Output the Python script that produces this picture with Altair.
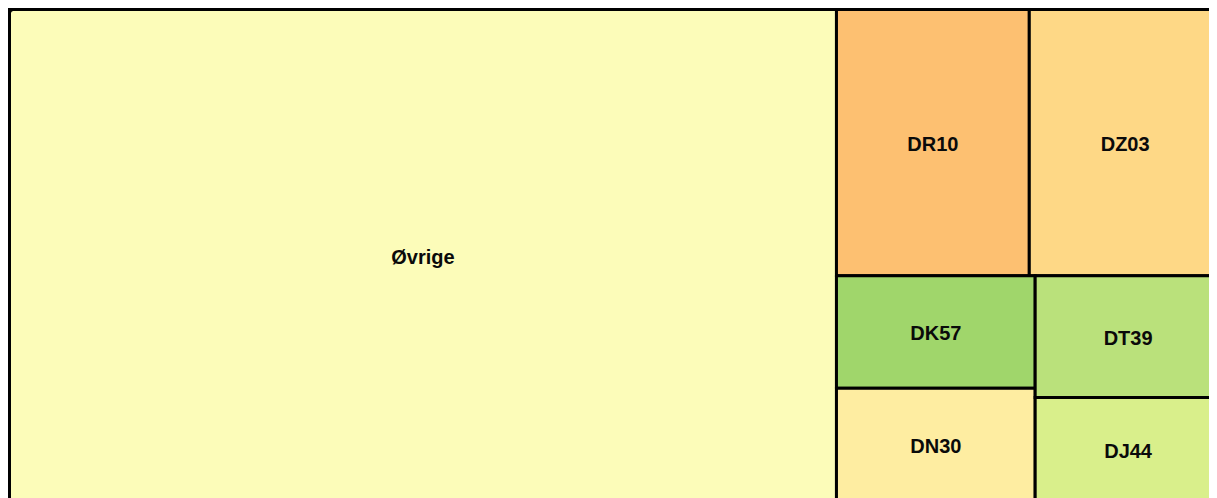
import altair as alt
import pandas as pd

# ---- data ----
names = ["Øvrige", "DR10", "DZ03", "DK57", "DN30", "DT39", "DJ44"]
values = [68.3, 8.6, 8.55, 3.75, 3.8, 3.79, 3.27]

# ---- styles ----
palette = ["#fcfcb9", "#fdc071", "#fed886", "#a0d66b", "#feeda1", "#bae17b", "#d9ef8b"]
LW, LH = 1211.5, 493.0      # full treemap extent (larger than the visible window)
PW, PH = 1201, 490          # visible plot area


def squarify(vals, x0, y0, x1, y1):
    """Squarified treemap layout (d3 algorithm, ratio 1), keeps input order."""
    n = len(vals)
    rects = [None] * n
    value = float(sum(vals))
    i0 = i1 = 0
    while i0 < n:
        dx, dy = x1 - x0, y1 - y0
        sumv = vals[i1]
        i1 += 1
        minv = maxv = sumv
        alpha = max(dy / dx, dx / dy) / value
        beta = sumv * sumv * alpha
        min_ratio = max(maxv / beta, beta / minv)
        while i1 < n:
            nv = vals[i1]
            s = sumv + nv
            mn, mx = min(minv, nv), max(maxv, nv)
            beta = s * s * alpha
            nr = max(mx / beta, beta / mn)
            if nr > min_ratio:
                break
            sumv, minv, maxv, min_ratio = s, mn, mx, nr
            i1 += 1
        row = list(range(i0, i1))
        if dx < dy:
            ny = y0 + dy * sumv / value
            cx = x0
            for k in row:
                w = (x1 - x0) * vals[k] / sumv
                rects[k] = (cx, y0, cx + w, ny)
                cx += w
            y0 = ny
        else:
            nx = x0 + dx * sumv / value
            cy = y0
            for k in row:
                h = (y1 - y0) * vals[k] / sumv
                rects[k] = (x0, cy, nx, cy + h)
                cy += h
            x0 = nx
        value -= sumv
        i0 = i1
    return rects


cells = squarify(values, 0.0, 0.0, LW, LH)
df = pd.DataFrame({
    "name": names,
    "value": values,
    "x0": [c[0] for c in cells],
    "y0": [c[1] for c in cells],
    "x1": [c[2] for c in cells],
    "y1": [c[3] for c in cells],
})
df["xc"] = (df["x0"] + df["x1"]) / 2
df["yc"] = (df["y0"] + df["y1"]) / 2

frame_df = pd.DataFrame({"x0": [0.0], "x1": [LW], "y0": [0.0], "y1": [LH]})

xs = alt.Scale(domain=[-1.5, PW - 1.5], nice=False, zero=False)
ys = alt.Scale(domain=[-1.5, PH - 1.5], nice=False, zero=False, reverse=True)

rects = alt.Chart(df).mark_rect(stroke="black", strokeWidth=3, clip=True).encode(
    x=alt.X("x0:Q", scale=xs, axis=None),
    x2="x1:Q",
    y=alt.Y("y0:Q", scale=ys, axis=None),
    y2="y1:Q",
    color=alt.Color("name:N", scale=alt.Scale(domain=names, range=palette), legend=None),
)

labels = alt.Chart(df).mark_text(
    fontWeight="bold", fontSize=20, font="Liberation Sans", color="#0a0a0a",
    baseline="middle", align="center", dy=2, clip=True,
).encode(
    x=alt.X("xc:Q", scale=xs, axis=None),
    y=alt.Y("yc:Q", scale=ys, axis=None),
    text="name:N",
)

frame = alt.Chart(frame_df).mark_rect(
    fill="transparent", stroke="black", strokeWidth=3, cornerRadius=4, clip=True,
).encode(
    x=alt.X("x0:Q", scale=xs, axis=None),
    x2="x1:Q",
    y=alt.Y("y0:Q", scale=ys, axis=None),
    y2="y1:Q",
)

chart = (rects + labels + frame).properties(
    width=PW, height=PH,
    padding=0,
).configure_view(stroke=None)

chart.save("out.html", embed_options={"renderer": "svg", "actions": False})
